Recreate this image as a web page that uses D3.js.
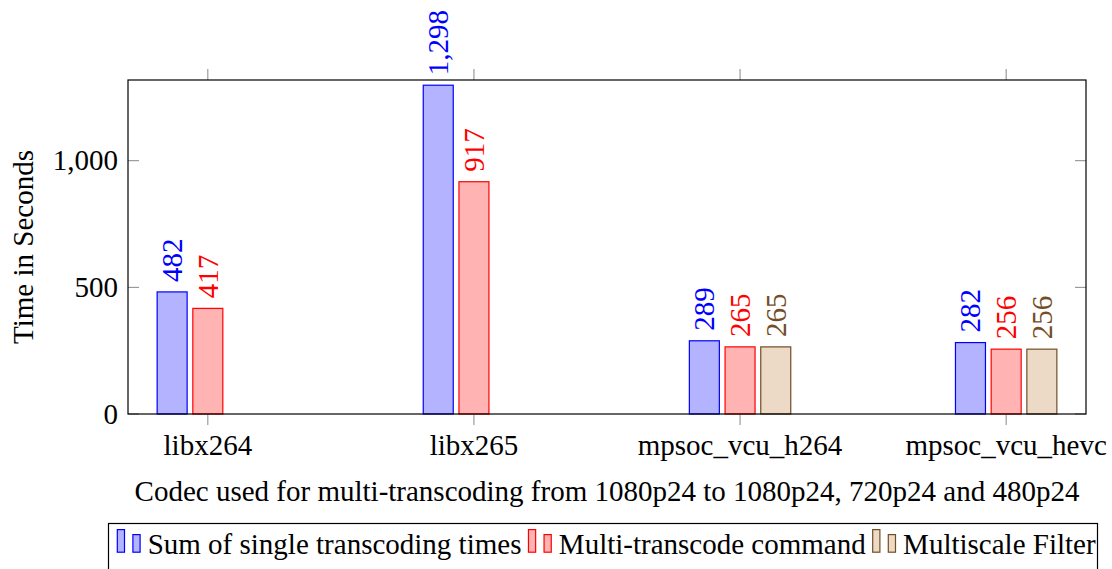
<!DOCTYPE html>
<html>
<head>
<meta charset="utf-8">
<script src="https://cdn.jsdelivr.net/npm/d3@7"></script>
<style>
  html, body { margin: 0; padding: 0; background: #fff; }
  svg text { font-family: "Liberation Serif", "Times New Roman", serif; }
</style>
</head>
<body>
<svg id="chart" width="1112" height="569"></svg>
<script>
// ---- data ----
const categories = ["libx264", "libx265", "mpsoc_vcu_h264", "mpsoc_vcu_hevc"];
const seriesNames = ["Sum of single transcoding times", "Multi-transcode command", "Multiscale Filter"];
const sumSingle = [482, 1298, 289, 282];
const multiTranscode = [417, 917, 265, 256];
const multiscaleFilter = [null, null, 265, 256];
const yTicks = [0, 500, 1000];
const xTitle = "Codec used for multi-transcoding from 1080p24 to 1080p24, 720p24 and 480p24";
const yTitle = "Time in Seconds";

(function () {
const seriesValues = [sumSingle, multiTranscode, multiscaleFilter];
const strokes = ["#0000ff", "#ff0000", "#734d26"];
const fills = ["#b3b3ff", "#ffb3b3", "#ecd9c6"];

// ---- layout ----
const svg = d3.select("#chart");
const pL = 128, pR = 1086, pT = 80, pB = 414;
const fs = 29;

const x = d3.scaleLinear().domain([-0.3, categories.length - 1 + 0.3]).range([pL, pR]);
const y = d3.scaleLinear().domain([0, 1318.6]).range([pB, pT]);
const barW = 30;
const shift = 35.7;
const fmt = d3.format(",");

// bars
seriesValues.forEach((vals, s) => {
  const off = (s - 1) * shift;
  const data = vals.map((v, i) => ({ v, i })).filter(d => d.v != null);
  const g = svg.append("g");
  g.selectAll("rect").data(data).enter().append("rect")
    .attr("x", d => x(d.i) + off - barW / 2)
    .attr("y", d => y(d.v))
    .attr("width", barW)
    .attr("height", d => y(0) - y(d.v))
    .attr("fill", fills[s])
    .attr("stroke", strokes[s])
    .attr("stroke-width", 1.2);
  g.selectAll("text").data(data).enter().append("text")
    .attr("transform", d => `translate(${x(d.i) + off},${y(d.v) - 10}) rotate(-90)`)
    .attr("dy", "0.34em")
    .attr("text-anchor", "start")
    .attr("font-size", fs)
    .attr("fill", strokes[s])
    .text(d => fmt(d.v));
});

// frame ticks
const tickColor = "#888";
const tickLen = 11;
const axG = svg.append("g");
categories.forEach((c, i) => {
  axG.append("line").attr("x1", x(i)).attr("x2", x(i)).attr("y1", pB).attr("y2", pB + tickLen)
    .attr("stroke", tickColor).attr("stroke-width", 1);
  axG.append("line").attr("x1", x(i)).attr("x2", x(i)).attr("y1", pT - tickLen).attr("y2", pT)
    .attr("stroke", tickColor).attr("stroke-width", 1);
});
yTicks.forEach(t => {
  axG.append("line").attr("x1", pL).attr("x2", pL + tickLen).attr("y1", y(t)).attr("y2", y(t))
    .attr("stroke", tickColor).attr("stroke-width", 1);
  axG.append("line").attr("x1", pR - tickLen).attr("x2", pR).attr("y1", y(t)).attr("y2", y(t))
    .attr("stroke", tickColor).attr("stroke-width", 1);
});

// frame
svg.append("rect").attr("x", pL).attr("y", pT).attr("width", pR - pL).attr("height", pB - pT)
  .attr("fill", "none").attr("stroke", "#000").attr("stroke-width", 1.2);

// tick labels
svg.append("g").selectAll("text").data(categories).enter().append("text")
  .attr("x", (d, i) => x(i)).attr("y", 455)
  .attr("text-anchor", "middle").attr("font-size", fs).attr("fill", "#000")
  .text(d => d);
svg.append("g").selectAll("text").data(yTicks).enter().append("text")
  .attr("x", pL - 10).attr("y", d => y(d)).attr("dy", "0.33em")
  .attr("text-anchor", "end").attr("font-size", fs).attr("fill", "#000")
  .text(d => fmt(d));

// axis titles
svg.append("text").attr("x", (pL + pR) / 2).attr("y", 501)
  .attr("text-anchor", "middle").attr("font-size", fs).attr("fill", "#000").text(xTitle);
svg.append("text").attr("transform", `translate(33,${(pT + pB) / 2}) rotate(-90)`)
  .attr("text-anchor", "middle").attr("font-size", fs).attr("fill", "#000").text(yTitle);

// legend
const lg = svg.append("g");
lg.append("rect").attr("x", 108.5).attr("y", 523.5).attr("width", 989).attr("height", 60)
  .attr("fill", "#fff").attr("stroke", "#000").attr("stroke-width", 1.2);
let cx = 117.3;
seriesNames.forEach((name, s) => {
  lg.append("rect").attr("x", cx).attr("y", 529.6).attr("width", 7.2).attr("height", 22.6)
    .attr("fill", fills[s]).attr("stroke", strokes[s]).attr("stroke-width", 1.2);
  lg.append("rect").attr("x", cx + 15.6).attr("y", 534.6).attr("width", 7.2).attr("height", 17.6)
    .attr("fill", fills[s]).attr("stroke", strokes[s]).attr("stroke-width", 1.2);
  const t = lg.append("text").attr("x", cx + 30.4).attr("y", 554.3)
    .attr("font-size", fs).attr("fill", "#000").text(name);
  cx = cx + 30.4 + t.node().getComputedTextLength() + 7;
});
})();
</script>
</body>
</html>
